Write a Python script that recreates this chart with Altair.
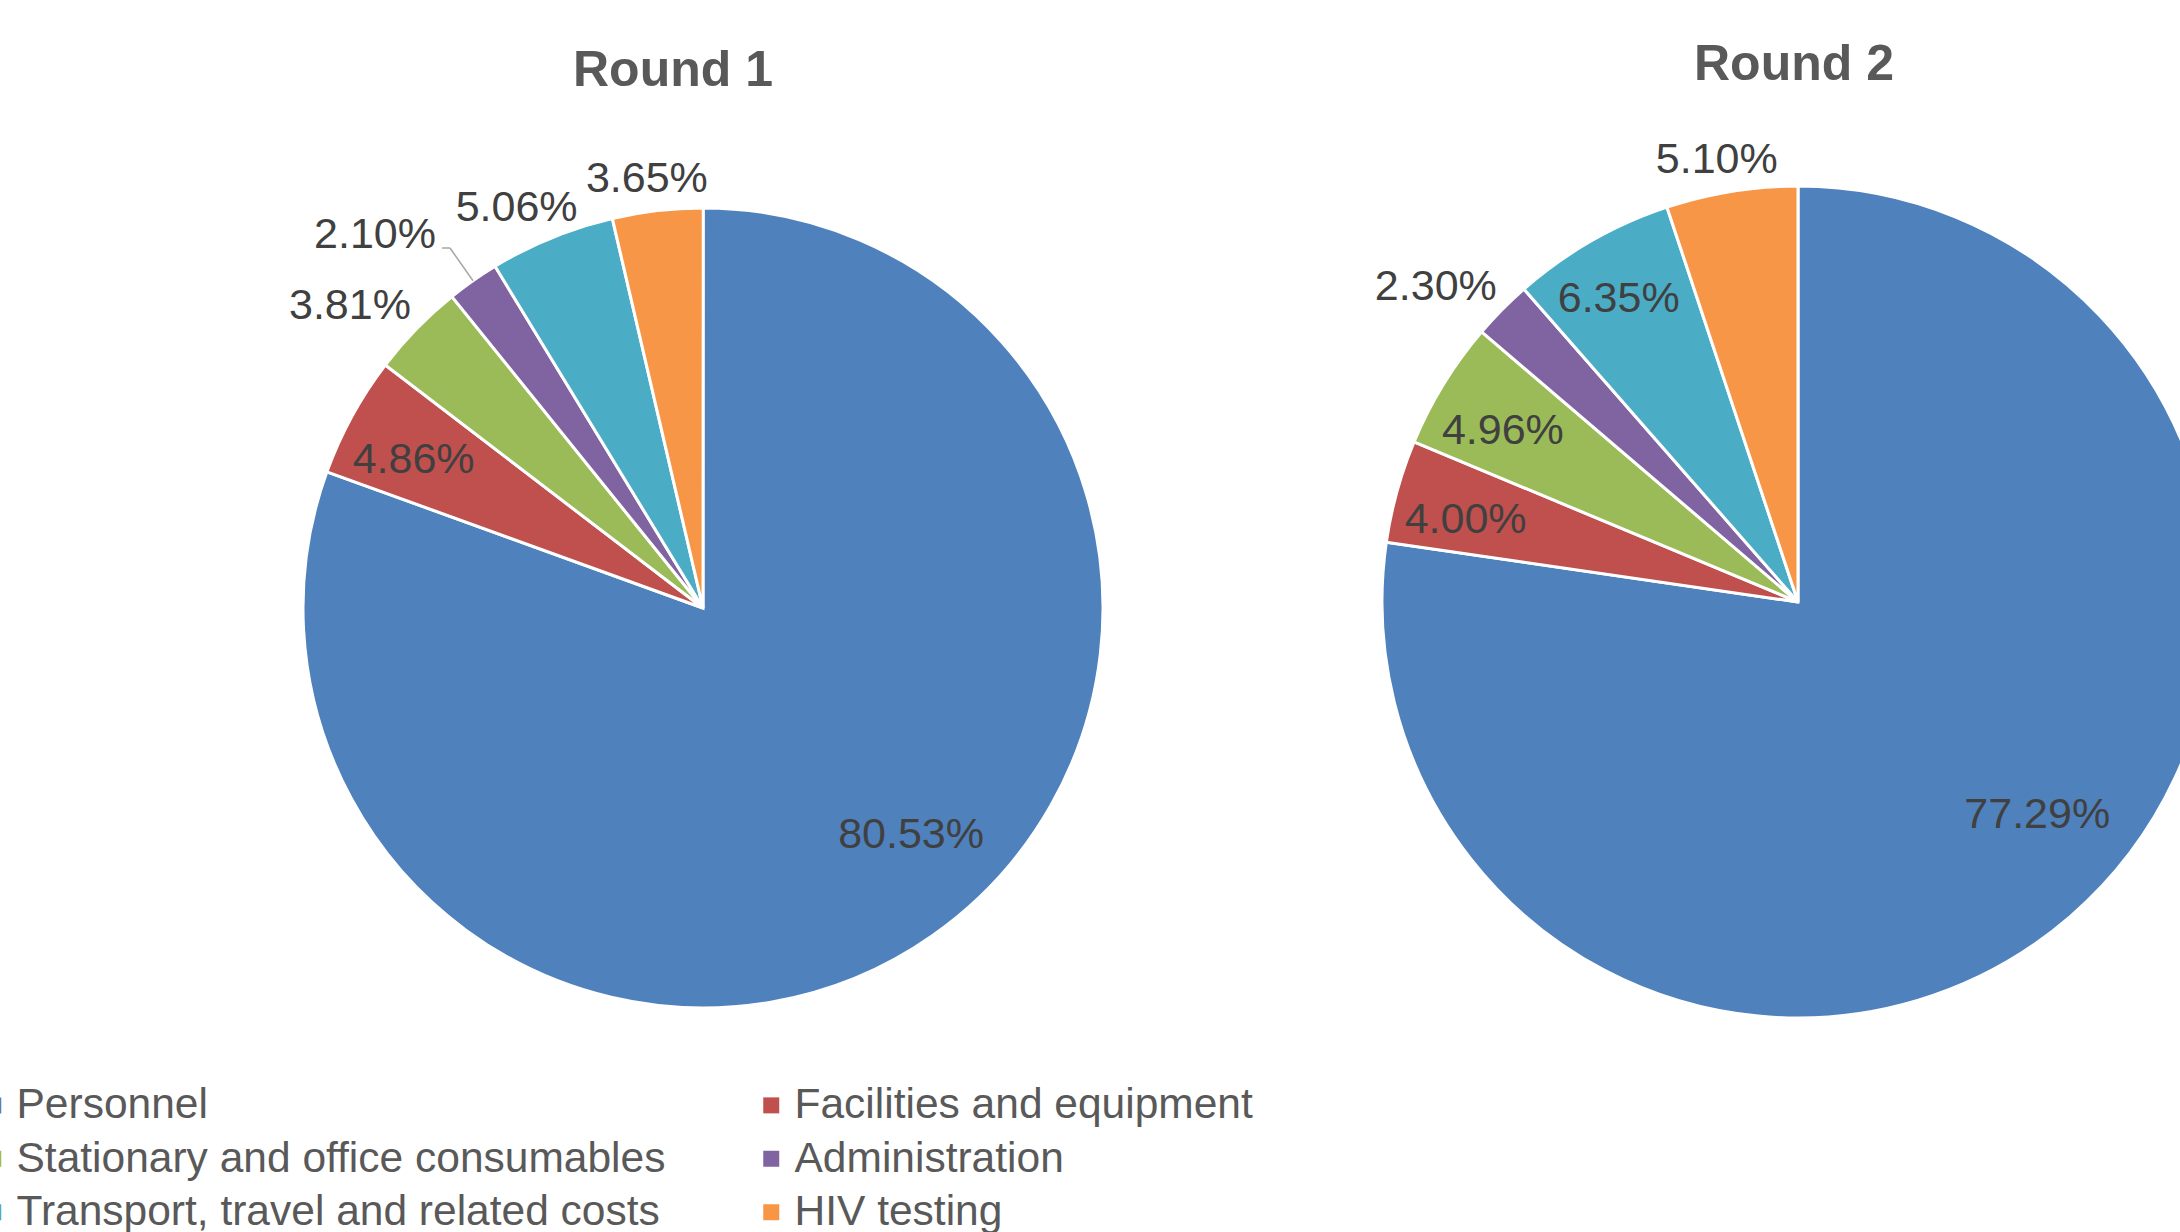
import math
import altair as alt
import pandas as pd

rounds = ["Round 1", "Round 2"]
categories = [
    "Personnel",
    "Facilities and equipment",
    "Stationary and office consumables",
    "Administration",
    "Transport, travel and related costs",
    "HIV testing",
]
colors = ["#4F81BD", "#C0504D", "#9BBB59", "#8064A2", "#4BACC6", "#F79646"]
round1_values = [80.53, 4.86, 3.81, 2.10, 5.06, 3.65]
round2_values = [77.29, 4.00, 4.96, 2.30, 6.35, 5.10]
round1_label_place = ["center", "inside", "outside", "callout", "outside", "outside"]
round2_label_place = ["center", "inside", "inside", "outside", "inside", "outside"]

rows = []
for ri, (rnd, vals, places) in enumerate(
    zip(rounds, [round1_values, round2_values], [round1_label_place, round2_label_place])
):
    for i, (cat, v, p) in enumerate(zip(categories, vals, places)):
        rows.append(dict(round=rnd, ri=ri, category=cat, idx=i, value=v,
                         label=f"{v:.2f}%", place=p))
df = pd.DataFrame(rows)
titles_df = pd.DataFrame({"round": rounds, "ri": list(range(len(rounds)))})

FONT = "Liberation Sans"
PIE_X = [703, 1798]
PIE_Y = [608, 602]
PIE_R = [400, 416]
OUT_HW, OUT_HH = 85, 24   # label box half sizes used to offset outside labels
IN_HW, IN_HH = 60, 20
GAP = 8
IN_SHIFT = 10
CENTER_FRAC = 0.77
CENTER_TURN = 0.13        # radians
CALLOUT_EXT = 40


def px(rng):
    return alt.X("ri:Q", scale=alt.Scale(domain=[0, 1], range=rng, nice=False, zero=False), axis=None)


def py(rng):
    return alt.Y("ri:Q", scale=alt.Scale(domain=[0, 1], range=rng, nice=False, zero=False), axis=None)


theta_scale = alt.Scale(domain=[0, 100], range=[0, 2 * math.pi])

color = alt.Color(
    "category:N",
    scale=alt.Scale(domain=categories, range=colors),
    sort=categories,
    legend=alt.Legend(
        title=None,
        orient="none",
        legendX=-28,
        legendY=1084,
        columns=2,
        direction="horizontal",
        symbolType="square",
        symbolSize=256,
        symbolStrokeWidth=0,
        symbolOpacity=1,
        labelFont=FONT,
        labelFontSize=42.5,
        labelColor="#595959",
        labelOffset=2,
        labelLimit=1000,
        columnPadding=84,
        rowPadding=10.5,
    ),
)

base = alt.Chart(df)


def with_angles(ch):
    return (
        ch.transform_window(
            cum="sum(value)", groupby=["round"], sort=[alt.SortField("idx")], frame=[None, 0]
        )
        .transform_calculate(t="(datum.cum - datum.value / 2) / 100 * 2 * PI")
        .transform_calculate(s="sin(datum.t)", c="cos(datum.t)")
    )


layers = []
for ri, rnd in enumerate(rounds):
    layers.append(
        base.transform_filter(alt.datum.round == rnd)
        .mark_arc(outerRadius=PIE_R[ri], stroke="white", strokeWidth=3)
        .encode(
            x=px(PIE_X),
            y=py(PIE_Y),
            theta=alt.Theta("value:Q", stack=True, scale=theta_scale),
            color=color,
            order=alt.Order("idx:Q"),
        )
    )

for ri, rnd in enumerate(rounds):
    R = PIE_R[ri]
    X0, Y0 = PIE_X[ri], PIE_Y[ri]
    rin = f"({R} - {GAP} - abs(datum.s) * {IN_HW} - abs(datum.c) * {IN_HH})"
    rc = CENTER_FRAC * R
    ax = (
        f"datum.place == 'outside' ? ({R} + {GAP}) * datum.s + datum.s * {OUT_HW} : "
        f"datum.place == 'inside' ? {rin} * datum.s : "
        f"datum.place == 'callout' ? ({R} + {CALLOUT_EXT}) * datum.s - 75 : "
        f"{rc} * sin(datum.t - {CENTER_TURN})"
    )
    ay = (
        f"datum.place == 'outside' ? -({R} + {GAP}) * datum.c - datum.c * {OUT_HH} : "
        f"datum.place == 'inside' ? -{rin} * datum.c + {IN_SHIFT} : "
        f"datum.place == 'callout' ? -({R} + {CALLOUT_EXT}) * datum.c - 13 : "
        f"-{rc} * cos(datum.t - {CENTER_TURN})"
    )
    layers.append(
        with_angles(base)
        .transform_filter(alt.datum.round == rnd)
        .transform_calculate(ax=ax, ay=ay)
        .transform_calculate(lr="sqrt(datum.ax * datum.ax + datum.ay * datum.ay)",
                             lt="atan2(datum.ax, -datum.ay)")
        .mark_text(font=FONT, fontSize=43, color="#404040", align="center", baseline="middle")
        .encode(
            x=px(PIE_X),
            y=py(PIE_Y),
            theta=alt.Theta("lt:Q", scale=None),
            radius=alt.Radius("lr:Q", scale=None),
            text="label:N",
        )
    )
    # leader lines for callout labels
    callout = (
        with_angles(base)
        .transform_filter((alt.datum.round == rnd) & (alt.datum.place == "callout"))
        .transform_calculate(
            ex=f"{X0} + {R} * datum.s",
            ey=f"{Y0} - {R} * datum.c",
            bx=f"{X0} + ({R} + {CALLOUT_EXT}) * datum.s",
            by=f"{Y0} - ({R} + {CALLOUT_EXT}) * datum.c",
        )
        .transform_calculate(hx="datum.bx - 8")
    )
    layers.append(
        callout.mark_rule(color="#A6A6A6", strokeWidth=1.5).encode(
            x=alt.X("ex:Q", scale=None, axis=None),
            y=alt.Y("ey:Q", scale=None, axis=None),
            x2="bx:Q",
            y2="by:Q",
        )
    )
    layers.append(
        callout.mark_rule(color="#A6A6A6", strokeWidth=1.5).encode(
            x=alt.X("bx:Q", scale=None, axis=None),
            y=alt.Y("by:Q", scale=None, axis=None),
            x2="hx:Q",
        )
    )

titles = (
    alt.Chart(titles_df)
    .mark_text(font=FONT, fontSize=50, fontWeight="bold", color="#595959",
               align="center", baseline="alphabetic")
    .encode(x=px([673, 1794]), y=py([86, 80]), text="round:N")
)
layers.append(titles)

chart = (
    alt.layer(*layers)
    .resolve_scale(x="independent", y="independent", theta="independent", radius="independent")
    .properties(width=2180, height=1232, autosize="none", padding=0, background="white")
    .configure_view(strokeWidth=0)
)

chart.save("out.html", embed_options={"renderer": "svg", "actions": False})
